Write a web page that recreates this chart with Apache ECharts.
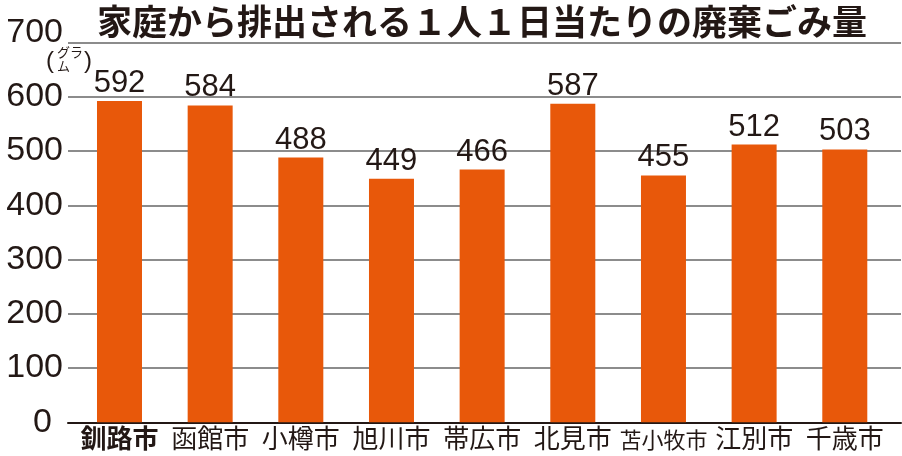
<!DOCTYPE html>
<html>
<head>
<meta charset="utf-8">
<script src="https://cdn.jsdelivr.net/npm/echarts@6/dist/echarts.min.js"></script>
<style>
html,body{margin:0;padding:0;background:#fff;}
#chart{width:902px;height:456px;}
</style>
</head>
<body>
<div id="chart"></div>
<script>
const titleText = '家庭から排出される１人１日当たりの廃棄ごみ量';
const categories = ['釧路市', '函館市', '小樽市', '旭川市', '帯広市', '北見市', '苫小牧市', '江別市', '千歳市'];
const values = [592, 584, 488, 449, 466, 587, 455, 512, 503];
const highlightCategory = '釧路市';
const yTicks = [0, 100, 200, 300, 400, 500, 600, 700];

const chart = echarts.init(document.getElementById('chart'), null, {renderer: 'canvas'});
const numFont = "'Liberation Sans', 'DejaVu Sans', sans-serif";
const jpFont = "'Noto Sans CJK JP', sans-serif";
const dark = '#231815';

const option = {
  backgroundColor: '#ffffff',
  animation: false,
  title: {
    text: titleText,
    left: 477,
    textAlign: 'center',
    top: -1,
    textStyle: {fontFamily: jpFont, fontWeight: 'bold', fontSize: 35, color: dark}
  },
  grid: {left: 68, right: 1, top: 42.5, bottom: 33.7, containLabel: false},
  xAxis: {
    type: 'value',
    min: -0.568,
    max: 8.62,
    splitLine: {show: false},
    axisTick: {show: false},
    axisLine: {show: true, lineStyle: {color: dark, width: 2}},
    axisLabel: {
      customValues: categories.map((c, i) => i),
      margin: 3,
      fontFamily: jpFont,
      fontSize: 26,
      color: dark,
      formatter: function (v) {
        const name = categories[Math.round(v)];
        if (name === highlightCategory) return '{b|' + name + '}';
        if (name.length > 3) return '{s|' + name + '}';
        return name;
      },
      rich: {
        b: {fontFamily: jpFont, fontSize: 26, fontWeight: 'bold', color: dark},
        s: {fontFamily: jpFont, fontSize: 22, color: dark, padding: [3, 0, 0, 0]}
      }
    }
  },
  yAxis: {
    type: 'value',
    min: 0,
    max: 700,
    interval: 100,
    axisLine: {show: false},
    axisTick: {show: false},
    splitLine: {show: true, lineStyle: {color: '#8c8c8c', width: 2}},
    axisLabel: {
      margin: 5,
      fontFamily: numFont,
      fontSize: 34,
      color: dark,
      formatter: function (v) {
        if (v === yTicks[yTicks.length - 1]) return '{t|' + v + '}';
        if (v === yTicks[0]) return '{z|' + v + '}';
        return String(v);
      },
      rich: {
        t: {fontFamily: numFont, fontSize: 34, color: dark, padding: [0, 0, 20, 0]},
        z: {fontFamily: numFont, fontSize: 34, color: dark, padding: [0, 11, 0, 0]}
      }
    }
  },
  graphic: [
    {type: 'text', left: 46, top: 49, style: {text: '(', font: "24px 'Liberation Sans'", fill: dark}},
    {type: 'text', left: 57, top: 46, style: {text: 'グラ', font: "13px 'Noto Sans CJK JP'", fill: dark}},
    {type: 'text', left: 57, top: 60, style: {text: 'ム', font: "13px 'Noto Sans CJK JP'", fill: dark}},
    {type: 'text', left: 84, top: 49, style: {text: ')', font: "24px 'Liberation Sans'", fill: dark}}
  ],
  series: [{
    type: 'bar',
    barWidth: 45,
    data: values.map((v, i) => [i, v]),
    itemStyle: {color: '#e8580a'},
    label: {
      show: true,
      position: 'top',
      distance: 2,
      fontFamily: numFont,
      fontSize: 31,
      color: dark,
      formatter: p => p.value[1]
    }
  }]
};
chart.setOption(option);
</script>
</body>
</html>
